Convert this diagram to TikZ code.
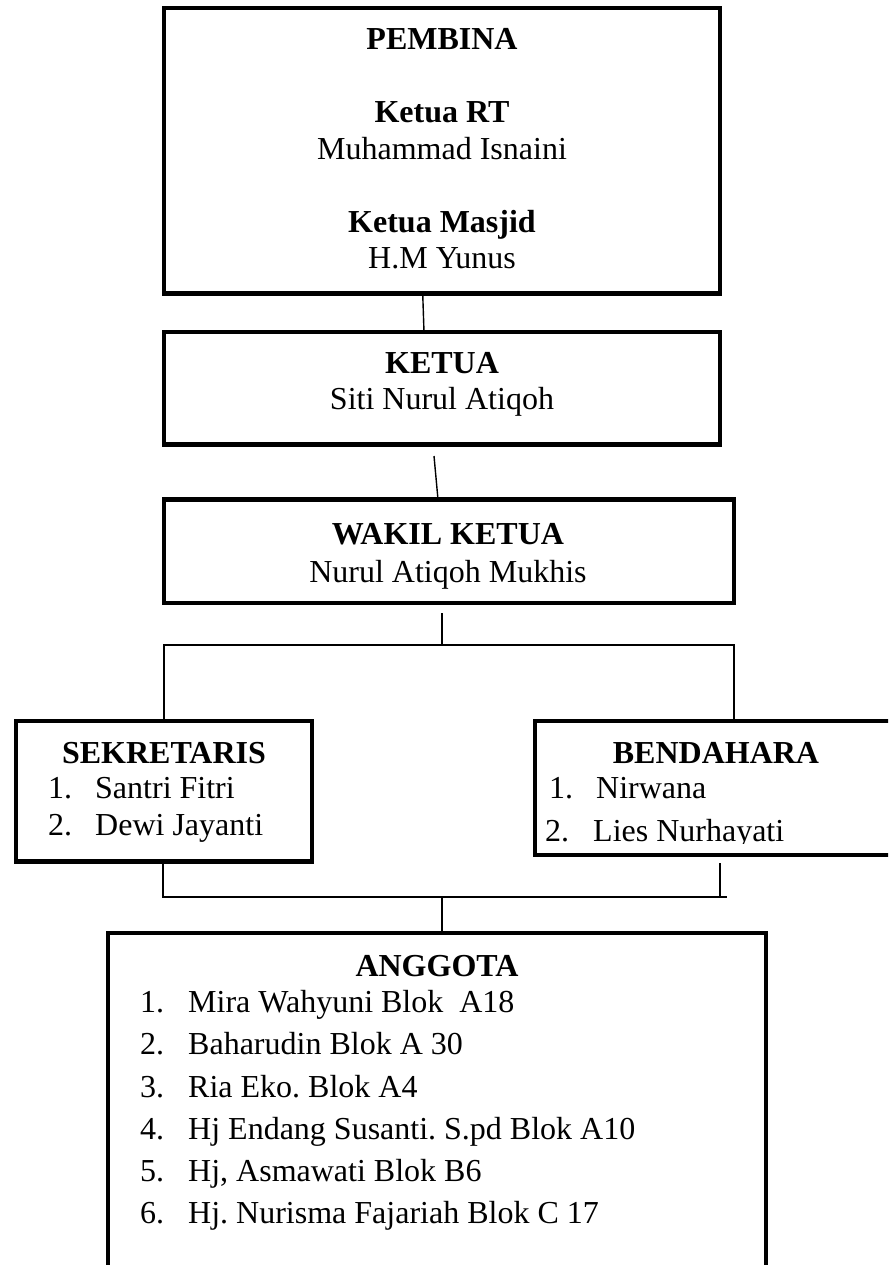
\documentclass[tikz,border=0pt]{standalone}
\usepackage{fontspec}
\setmainfont{Liberation Serif}
\usetikzlibrary{calc}
\frenchspacing
\newcommand\orgfs{\fontsize{32}{38}\selectfont\frenchspacing}
\tikzset{
  orgbox/.style={draw, line width=4.5pt, line join=miter, rectangle, inner sep=0pt, outer sep=0pt, fill=white},
  conn/.style={draw, line width=1.4pt},
  ttl/.style={inner sep=0pt, anchor=base, font=\orgfs\bfseries},
  nm/.style={inner sep=0pt, anchor=base, font=\orgfs},
  itm/.style={inner sep=0pt, anchor=base west, font=\orgfs},
}
\begin{document}
\begin{tikzpicture}[x=1pt,y=-1pt]
\useasboundingbox (0,0) rectangle (888,1265);
\clip (0,0) rectangle (888,1265);
\fill[white] (0,0) rectangle (888,1265);

% boxes
\node[orgbox, minimum width=556pt, minimum height=285.5pt] (pembina) at (442,150.75) {};
\node[orgbox, minimum width=556pt, minimum height=112.5pt] (ketua) at (442,388.25) {};
\node[orgbox, minimum width=570pt, minimum height=103.5pt] (wakil) at (449,551.25) {};
\node[orgbox, minimum width=296pt, minimum height=140.5pt] (sek) at (164,791.25) {};
\node[orgbox, minimum width=365pt, minimum height=134pt] (ben) at (717.5,788) {};
\node[orgbox, minimum width=658pt, minimum height=347pt] (ang) at (437,1106.5) {};

% texts
\node[ttl] (tpembina) at (442,50) {PEMBINA};
\node[ttl] (trt) at (442,123) {Ketua RT};
\node[nm] (nrt) at (442,160) {Muhammad Isnaini};
\node[ttl] (tmasjid) at (442,233) {Ketua Masjid};
\node[nm] (nmasjid) at (442,269) {H.M Yunus};

\node[ttl] (tketua) at (442,373) {KETUA};
\node[nm] (nketua) at (442,409) {Siti Nurul Atiqoh};

\node[ttl] (twakil) at (448,544) {WAKIL KETUA};
\node[nm] (nwakil) at (448,582) {Nurul Atiqoh Mukhis};

\node[ttl] (tsek) at (164,763) {SEKRETARIS};
\node[itm] (s1n) at (48,798) {1.};
\node[itm] (s1) at (95,798) {Santri Fitri};
\node[itm] (s2n) at (48,835) {2.};
\node[itm] (s2) at (95,835) {Dewi Jayanti};

\node[ttl] (tben) at (716,763) {BENDAHARA};
\node[itm] (b1n) at (549,798) {1.};
\node[itm] (b1) at (596,798) {Nirwana};
\begin{scope}
\clip (537,780) rectangle (888,843.5);
\node[itm] (b2n) at (545,841) {2.};
\node[itm] (b2) at (593,841) {Lies Nurhayati};
\end{scope}

\node[ttl] (tang) at (437,976) {ANGGOTA};
\node[itm] (a1n) at (140,1012) {1.};
\node[itm] (a1) at (188,1012) {Mira Wahyuni Blok~ A18};
\node[itm] (a2n) at (140,1054) {2.};
\node[itm] (a2) at (188,1054) {Baharudin Blok A 30};
\node[itm] (a3n) at (140,1097) {3.};
\node[itm] (a3) at (188,1097) {Ria Eko. Blok A4};
\node[itm] (a4n) at (140,1139) {4.};
\node[itm] (a4) at (188,1139) {Hj Endang Susanti. S.pd Blok A10};
\node[itm] (a5n) at (140,1181) {5.};
\node[itm] (a5) at (188,1181) {Hj, Asmawati Blok B6};
\node[itm] (a6n) at (140,1223) {6.};
\node[itm] (a6) at (188,1223) {Hj. Nurisma Fajariah Blok C 17};

% connectors
\coordinate (bus1) at (442,645);
\coordinate (bus2) at (442,897);
\coordinate (bus2end) at (727,897);

\draw[conn] ([xshift=-19.3pt]pembina.south) -- ([xshift=-18pt]ketua.north);
\draw[conn] ([xshift=-8pt,yshift=-11.5pt]ketua.south) -- ([xshift=-11pt]wakil.north);
\draw[conn] ([xshift=-7pt,yshift=-10pt]wakil.south) -- (bus1);
\draw[conn] (sek.north) |- (bus1) -| ([xshift=16.5pt]ben.north);
\draw[conn] ([xshift=-1pt,yshift=-1.5pt]sek.south) |- (bus2);
\draw[conn] ([xshift=2.5pt,yshift=-8pt]ben.south) |- (bus2);
\draw[conn] (bus2) -- (bus2end);
\draw[conn] (bus2) -- ([xshift=5pt]ang.north);
\end{tikzpicture}
\end{document}
